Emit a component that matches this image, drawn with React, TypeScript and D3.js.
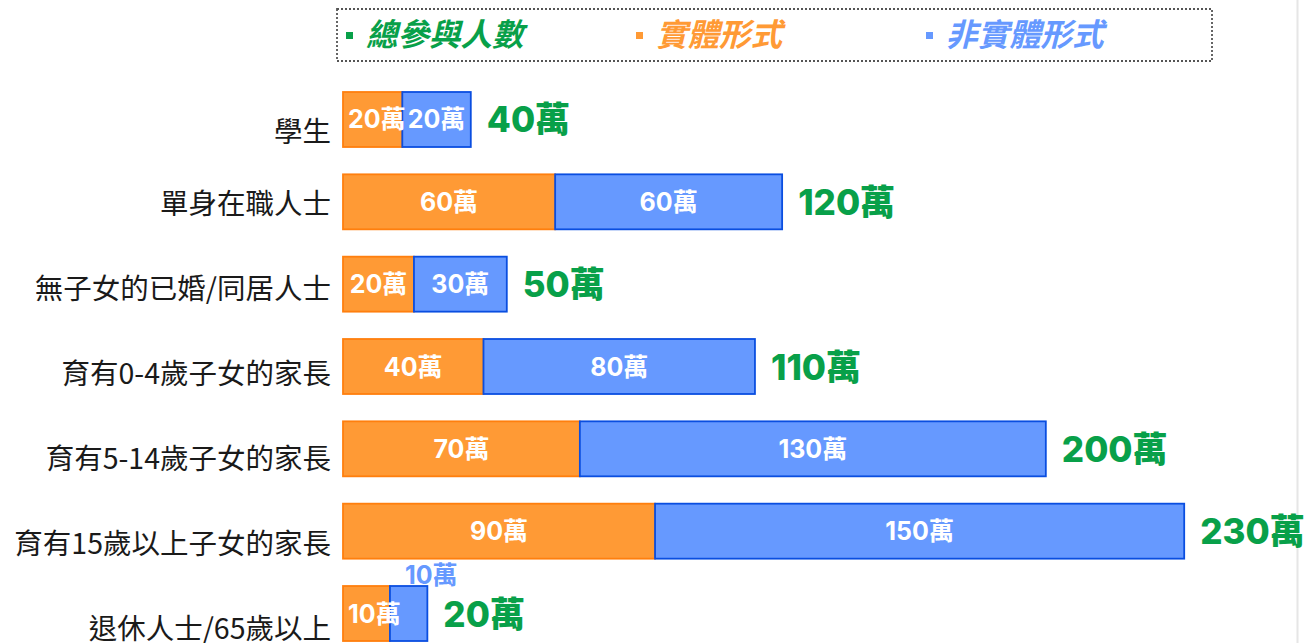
import React from "react";
import * as d3 from "d3";

// 受眾類別
const categories = [
  "學生",
  "單身在職人士",
  "無子女的已婚/同居人士",
  "育有0-4歲子女的家長",
  "育有5-14歲子女的家長",
  "育有15歲以上子女的家長",
  "退休人士/65歲以上",
];

// 實體形式 / 非實體形式 (萬人)
const physical = [16.8, 60.1, 20.1, 39.8, 67.1, 88.4, 13.3];
const nonPhysical = [19.4, 64.3, 26.3, 76.9, 132.0, 149.9, 10.6];

// printed labels (rounded in the source)
const physicalLabels = ["20萬", "60萬", "20萬", "40萬", "70萬", "90萬", "10萬"];
const nonPhysicalLabels = ["20萬", "60萬", "30萬", "80萬", "130萬", "150萬", "10萬"];
const totalLabels = ["40萬", "120萬", "50萬", "110萬", "200萬", "230萬", "20萬"];

const legendItems = ["總參與人數", "實體形式", "非實體形式"];

const W = 1306;
const H = 643;
const GREEN = "#08a049";
const ORANGE = "#ff9a35";
const ORANGE_STROKE = "#ff7f0e";
const BLUE = "#6699ff";
const BLUE_STROKE = "#0a4ee0";
const NUM_FONT = "Inter, 'Noto Sans CJK TC', sans-serif";
const CJK_FONT = "'Noto Sans CJK TC', 'Noto Sans', sans-serif";

export default function App() {
  const ref = React.useRef<SVGSVGElement>(null);

  React.useEffect(() => {
    const svg = d3.select(ref.current);
    svg.selectAll("*").remove();

    const x = d3.scaleLinear().domain([0, 250]).range([343, 1225.5]);
    const y = d3.scaleBand().domain(categories).range([92, 641]).paddingInner(0.332).paddingOuter(0);
    // category labels sit on their own, slightly wider spacing
    const yLab = d3.scalePoint().domain(categories.slice(1)).range([203.5, 629]);

    // faint edge line from the screenshot
    svg.append("line")
      .attr("x1", 1297.5).attr("x2", 1297.5).attr("y1", 0).attr("y2", H)
      .attr("stroke", "#e6e6e6").attr("stroke-width", 2);

    // legend
    const lg = svg.append("g");
    lg.append("rect")
      .attr("x", 337).attr("y", 9).attr("width", 875).attr("height", 52)
      .attr("fill", "none").attr("stroke", "#555").attr("stroke-width", 1.8)
      .attr("stroke-dasharray", "2,2");
    const legendColors = [GREEN, ORANGE, BLUE];
    const legendX = d3.scalePoint().domain(legendItems).range([346, 926]);
    legendItems.forEach((t, i) => {
      const lx = legendX(t)!;
      lg.append("rect").attr("x", lx).attr("y", 32).attr("width", 7).attr("height", 7)
        .attr("fill", legendColors[i]);
      lg.append("text").attr("x", lx + 20).attr("y", 46)
        .attr("fill", legendColors[i])
        .attr("font-family", CJK_FONT).attr("font-size", 31.5)
        .attr("font-weight", 700).attr("font-style", "italic")
        .text(t);
    });

    const rows = svg.append("g");
    categories.forEach((c, i) => {
      const y0 = y(c)!;
      const bh = y.bandwidth();
      const xa = x(0), xb = x(physical[i]), xc = x(physical[i] + nonPhysical[i]);
      const cy = y0 + bh / 2;

      // category label
      const ly = i === 0 ? y0 + bh - 5 : yLab(c)! + 10;
      rows.append("text")
        .attr("x", 331).attr("y", ly)
        .attr("text-anchor", "end")
        .attr("font-family", CJK_FONT).attr("font-size", 28.5)
        .attr("fill", "#1a1a1a")
        .text(c);

      rows.append("rect")
        .attr("x", xa).attr("y", y0).attr("width", xb - xa).attr("height", bh)
        .attr("fill", ORANGE).attr("stroke", ORANGE_STROKE).attr("stroke-width", 1.8);
      rows.append("rect")
        .attr("x", xb).attr("y", y0).attr("width", xc - xb).attr("height", bh)
        .attr("fill", BLUE).attr("stroke", BLUE_STROKE).attr("stroke-width", 1.8);

      // segment labels
      const segLabel = (x0: number, x1: number, t: string, clip: boolean) => {
        const tx = rows.append("text")
          .attr("font-family", NUM_FONT).attr("font-size", 25).attr("font-weight", 700)
          .attr("fill", "#fff").attr("text-anchor", "middle")
          .attr("x", (x0 + x1) / 2).attr("y", cy + 9)
          .text(t);
        const w = (tx.node() as SVGTextElement).getComputedTextLength();
        if (w > x1 - x0 - 4) {
          if (clip) {
            tx.attr("text-anchor", "start").attr("x", x0 + 5);
          } else {
            tx.attr("text-anchor", "start").attr("x", x0 + 15).attr("y", y0 - 2)
              .attr("fill", BLUE);
          }
        }
        return tx;
      };
      segLabel(xa, xb, physicalLabels[i], true);
      const bl = segLabel(xb, xc, nonPhysicalLabels[i], xc - xb > 50);
      if (xc - xb > 50) {
        const id = `clip-${i}`;
        svg.append("clipPath").attr("id", id).append("rect")
          .attr("x", xb).attr("y", y0).attr("width", xc - xb).attr("height", bh);
        bl.attr("clip-path", `url(#${id})`);
      }

      rows.append("text")
        .attr("x", xc + 16).attr("y", cy + 13)
        .attr("font-family", NUM_FONT).attr("font-size", 35).attr("font-weight", 800)
        .attr("fill", GREEN)
        .text(totalLabels[i]);
    });
  }, []);

  return (
    <svg ref={ref} width={W} height={H}
      style={{ position: "absolute", left: 0, top: 0, background: "#fff" }} />
  );
}
